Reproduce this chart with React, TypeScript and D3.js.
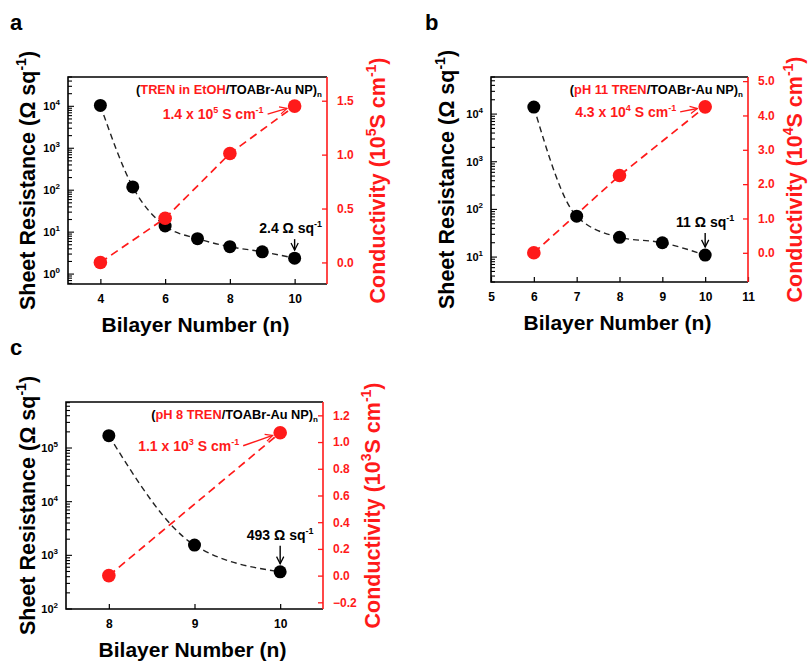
import React, { useRef, useEffect } from "react";
import * as d3 from "d3";

// panel a: (TREN in EtOH/TOABr-Au NP)n
const bilayersA = [4, 5, 6, 7, 8, 9, 10];
const resistanceA = [10500, 120, 14, 7, 4.5, 3.4, 2.4];
const condBilayersA = [4, 6, 8, 10];
const conductivityA = [0, 0.41, 1.01, 1.45];
const xTicksA = [4, 6, 8, 10];
const condTicksA = [0, 0.5, 1.0, 1.5];

// panel b: (pH 11 TREN/TOABr-Au NP)n
const bilayersB = [6, 7, 8, 9, 10];
const resistanceB = [14000, 72, 26, 20, 11];
const condBilayersB = [6, 8, 10];
const conductivityB = [0, 2.25, 4.25];
const xTicksB = [5, 6, 7, 8, 9, 10, 11];
const condTicksB = [0, 1, 2, 3, 4, 5];

// panel c: (pH 8 TREN/TOABr-Au NP)n
const bilayersC = [8, 9, 10];
const resistanceC = [170000, 1550, 493];
const condBilayersC = [8, 10];
const conductivityC = [0, 1.07];
const xTicksC = [8, 9, 10];
const condTicksC = [-0.2, 0, 0.2, 0.4, 0.6, 0.8, 1.0, 1.2];

const FONT = "'Liberation Sans', Arial, Helvetica, sans-serif";
const RED = "#ff1a1a";

const panels = [
  {
    id: "a", letter: "a", left: 68, top: 77, w: 259, h: 207,
    xDomain: [3, 11], xTicks: xTicksA,
    resDomain: [0.58, 50000], condDomain: [-0.2, 1.72], condTicks: condTicksA,
    bilayers: bilayersA, resistance: resistanceA,
    condBilayers: condBilayersA, conductivity: conductivityA,
    prefix: "TREN in EtOH", condText: ["1.4 x 10", "5"], resText: "2.4",
    condExp: "5", condDx: -31, condDy: 13, resDx: -4, resDy: -25, leftTitle: 33, rightTitle: 58,
  },
  {
    id: "b", letter: "b", left: 491, top: 77, w: 257, h: 205,
    xDomain: [5, 11], xTicks: xTicksB,
    resDomain: [3, 60000], condDomain: [-0.85, 5.12], condTicks: condTicksB,
    bilayers: bilayersB, resistance: resistanceB,
    condBilayers: condBilayersB, conductivity: conductivityB,
    prefix: "pH 11 TREN", condText: ["4.3 x 10", "4"], resText: "11",
    condExp: "4", condDx: -29, condDy: 10, resDx: 0, resDy: -28, leftTitle: 37, rightTitle: 54,
  },
  {
    id: "c", letter: "c", left: 66, top: 402, w: 257, h: 207,
    xDomain: [7.5, 10.5], xTicks: xTicksC,
    resDomain: [100, 720000], condDomain: [-0.25, 1.3], condTicks: condTicksC,
    bilayers: bilayersC, resistance: resistanceC,
    condBilayers: condBilayersC, conductivity: conductivityC,
    prefix: "pH 8 TREN", condText: ["1.1 x 10", "3"], resText: "493",
    condExp: "3", condDx: -41, condDy: 18, resDx: 0, resDy: -32, leftTitle: 31, rightTitle: 57,
  },
];

const sup = (sel, txt, size, up) => {
  sel.append("tspan").attr("dy", -up).attr("font-size", size).text(txt);
};

function drawPanel(svg, p) {
  const g = svg.append("g").attr("font-family", FONT).attr("font-weight", "bold");
  const x = d3.scaleLinear().domain(p.xDomain).range([p.left, p.left + p.w]);
  const yL = d3.scaleLog().domain(p.resDomain).range([p.top + p.h, p.top]);
  const yR = d3.scaleLinear().domain(p.condDomain).range([p.top + p.h, p.top]);
  const bottom = p.top + p.h;
  const right = p.left + p.w;

  // arrow markers
  const defs = g.append("defs");
  [["blk", "#000"], ["red", RED]].forEach(([k, c]) => {
    defs.append("marker")
      .attr("id", `arr-${p.id}-${k}`)
      .attr("viewBox", "0 0 10 10")
      .attr("refX", 9).attr("refY", 5)
      .attr("markerWidth", 9).attr("markerHeight", 9)
      .attr("markerUnits", "userSpaceOnUse")
      .attr("orient", "auto")
      .append("path")
      .attr("d", "M1,1 L9,5 L1,9")
      .attr("fill", "none").attr("stroke", c).attr("stroke-width", 1.4);
  });

  // left log ticks, inward (major + minor)
  const logTicks = yL.ticks(20).filter((t) => t >= p.resDomain[0] && t <= p.resDomain[1]);
  logTicks.forEach((t) => {
    const e = Math.log10(t);
    const major = Math.abs(e - Math.round(e)) < 1e-9;
    g.append("line")
      .attr("x1", p.left).attr("x2", p.left + (major ? 6 : 4))
      .attr("y1", yL(t)).attr("y2", yL(t))
      .attr("stroke", "#000").attr("stroke-width", 1.1);
    if (major) {
      const tx = g.append("text")
        .attr("x", p.left - 8).attr("y", yL(t) + 4)
        .attr("text-anchor", "end").attr("font-size", 11);
      tx.append("tspan").text("10");
      sup(tx, String(Math.round(e)), 8, 5);
    }
  });

  // bottom axis
  const xAxis = g.append("g")
    .attr("transform", `translate(0,${bottom})`)
    .call(d3.axisBottom(x).tickValues(p.xTicks).tickSize(-5).tickPadding(10).tickFormat(d3.format("d")));
  xAxis.select(".domain").remove();
  xAxis.selectAll("text").attr("font-size", 12).attr("font-family", FONT).attr("font-weight", "bold").attr("fill", "#000");
  xAxis.selectAll("line").attr("stroke", "#000").attr("stroke-width", 1.2);

  // right axis
  const rAxis = g.append("g")
    .attr("transform", `translate(${right},0)`)
    .call(d3.axisRight(yR).tickValues(p.condTicks).tickSize(-5).tickPadding(10).tickFormat(d3.format(".1f")));
  rAxis.select(".domain").remove();
  rAxis.selectAll("text").attr("font-size", 12).attr("font-family", FONT).attr("font-weight", "bold").attr("fill", RED);
  rAxis.selectAll("line").attr("stroke", RED).attr("stroke-width", 1.3);

  // frame
  g.append("path")
    .attr("d", `M${right},${p.top} L${p.left},${p.top} L${p.left},${bottom} L${right},${bottom}`)
    .attr("fill", "none").attr("stroke", "#000").attr("stroke-width", 1.6);
  g.append("line")
    .attr("x1", right).attr("x2", right).attr("y1", p.top).attr("y2", bottom)
    .attr("stroke", RED).attr("stroke-width", 1.6);

  // lines
  const resPts = p.bilayers.map((b, i) => [b, p.resistance[i]]);
  const condPts = p.condBilayers.map((b, i) => [b, p.conductivity[i]]);
  const resLine = d3.line().x((d) => x(d[0])).y((d) => yL(d[1])).curve(d3.curveMonotoneX);
  const condLine = d3.line().x((d) => x(d[0])).y((d) => yR(d[1]));

  g.append("path").datum(resPts).attr("d", resLine)
    .attr("fill", "none").attr("stroke", "#222").attr("stroke-width", 1.4).attr("stroke-dasharray", "6,4");
  g.append("path").datum(condPts).attr("d", condLine)
    .attr("fill", "none").attr("stroke", RED).attr("stroke-width", 1.7).attr("stroke-dasharray", "8,5");

  g.selectAll(".rpt").data(resPts).enter().append("circle")
    .attr("cx", (d) => x(d[0])).attr("cy", (d) => yL(d[1])).attr("r", 6.5).attr("fill", "#000");
  g.selectAll(".cpt").data(condPts).enter().append("circle")
    .attr("cx", (d) => x(d[0])).attr("cy", (d) => yR(d[1])).attr("r", 6.8).attr("fill", RED);

  // header
  const hd = g.append("text")
    .attr("x", right - 5).attr("y", p.top + 17)
    .attr("text-anchor", "end").attr("font-size", 12.8);
  hd.append("tspan").attr("fill", "#000").text("(");
  hd.append("tspan").attr("fill", RED).text(p.prefix);
  hd.append("tspan").attr("fill", "#000").text("/TOABr-Au NP)");
  hd.append("tspan").attr("fill", "#000").attr("font-size", 8).attr("dy", 3).text("n");

  // conductivity label + arrow
  const lastC = condPts[condPts.length - 1];
  const cx = x(lastC[0]);
  const cy = yR(lastC[1]);
  const tEnd = cx + p.condDx;
  const tBase = cy + p.condDy;
  const ct = g.append("text")
    .attr("x", tEnd).attr("y", tBase).attr("text-anchor", "end")
    .attr("font-size", 14).attr("fill", RED);
  ct.append("tspan").text(p.condText[0]);
  sup(ct, p.condText[1], 9, 6);
  ct.append("tspan").attr("dy", 6).text(" S cm");
  sup(ct, "-1", 9, 6);
  const ax0 = tEnd + 4;
  const ay0 = tBase - 5;
  const ang = Math.atan2(cy - ay0, cx - ax0);
  g.append("line")
    .attr("x1", ax0).attr("y1", ay0)
    .attr("x2", cx - Math.cos(ang) * 8).attr("y2", cy - Math.sin(ang) * 8)
    .attr("stroke", RED).attr("stroke-width", 1.4)
    .attr("marker-end", `url(#arr-${p.id}-red)`);

  // resistance label + arrow
  const lastR = resPts[resPts.length - 1];
  const rx = x(lastR[0]);
  const ry = yL(lastR[1]);
  const rt = g.append("text")
    .attr("x", rx + p.resDx).attr("y", ry + p.resDy).attr("text-anchor", "middle")
    .attr("font-size", 14).attr("fill", "#000");
  rt.append("tspan").text(`${p.resText} Ω sq`);
  sup(rt, "-1", 9, 6);
  g.append("line")
    .attr("x1", rx).attr("x2", rx).attr("y1", ry + p.resDy + 6).attr("y2", ry - 8)
    .attr("stroke", "#000").attr("stroke-width", 1.4)
    .attr("marker-end", `url(#arr-${p.id}-blk)`);

  // axis titles
  const lt = g.append("text")
    .attr("transform", `translate(${p.left - p.leftTitle},${p.top + p.h / 2}) rotate(-90)`)
    .attr("text-anchor", "middle").attr("font-size", 21.5).attr("fill", "#000");
  lt.append("tspan").text("Sheet Resistance (Ω sq");
  sup(lt, "-1", 14, 9);
  lt.append("tspan").attr("dy", 9).text(")");

  const rtt = g.append("text")
    .attr("transform", `translate(${right + p.rightTitle},${p.top + p.h / 2}) rotate(-90)`)
    .attr("text-anchor", "middle").attr("font-size", 21.5).attr("fill", RED);
  rtt.append("tspan").text("Conductivity (10");
  sup(rtt, p.condExp, 14, 9);
  rtt.append("tspan").attr("dy", 9).text("S cm");
  sup(rtt, "-1", 14, 9);
  rtt.append("tspan").attr("dy", 9).text(")");

  g.append("text")
    .attr("x", p.left + p.w / 2 - 2).attr("y", bottom + 48)
    .attr("text-anchor", "middle").attr("font-size", 21).attr("fill", "#000")
    .text("Bilayer Number (n)");

  // panel letter
  g.append("text")
    .attr("x", p.id === "b" ? 425 : 10).attr("y", p.top - 47)
    .attr("font-size", 22).attr("fill", "#000").text(p.letter);
}

const App = () => {
  const ref = useRef(null);

  useEffect(() => {
    if (!ref.current) return;
    const svg = d3.select(ref.current);
    svg.selectAll("*").remove();
    panels.forEach((p) => drawPanel(svg, p));
  }, []);

  return (
    <svg
      ref={ref}
      width={809}
      height={661}
      style={{ position: "absolute", left: 0, top: 0, background: "#fff" }}
    />
  );
};

export default App;
